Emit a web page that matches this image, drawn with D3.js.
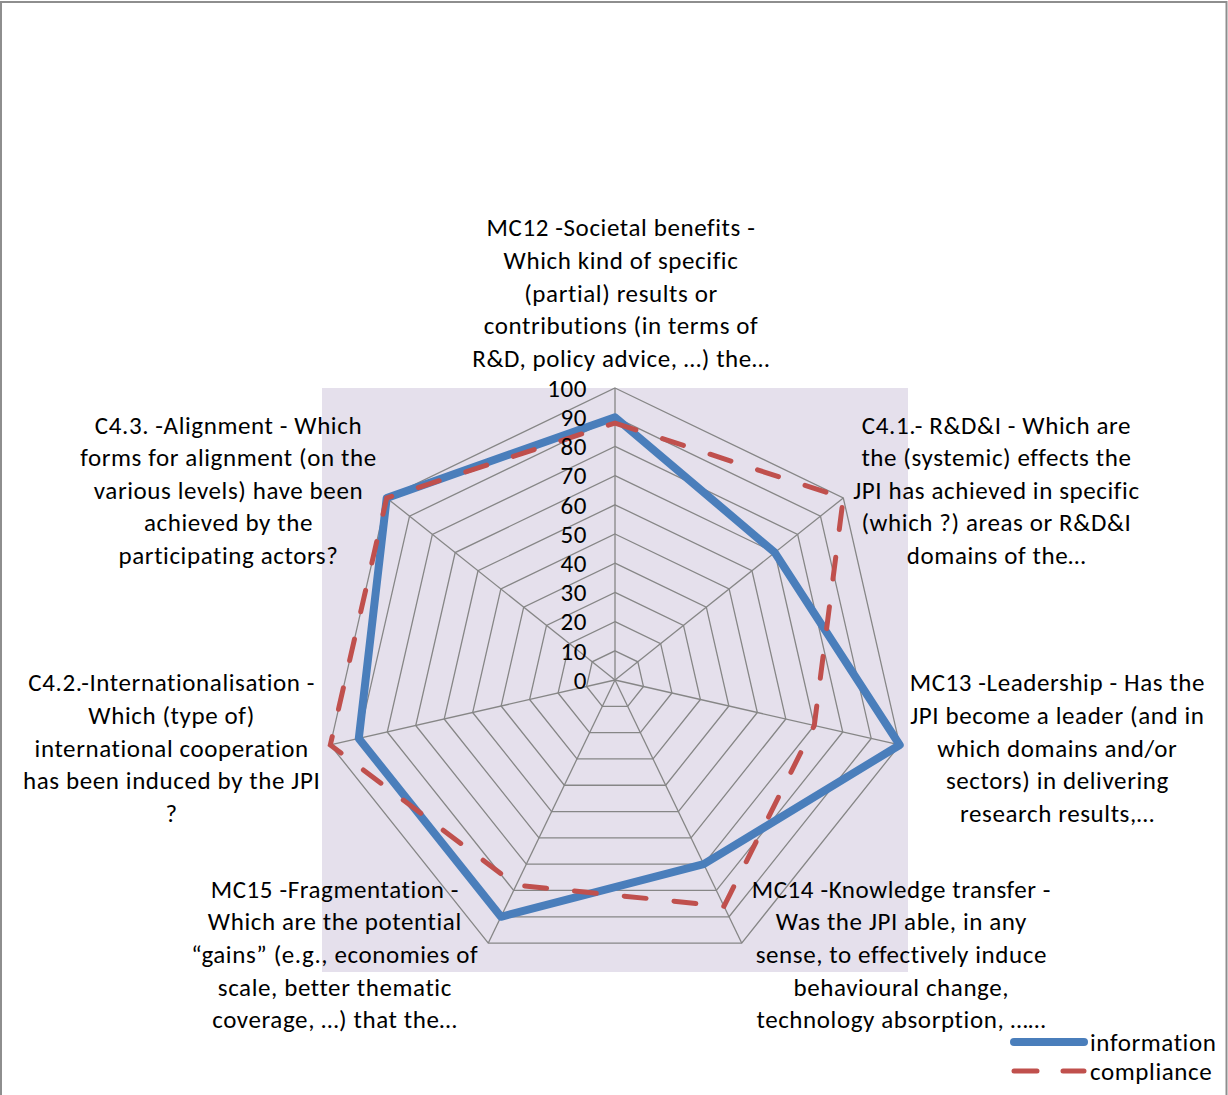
<!DOCTYPE html>
<html>
<head>
<meta charset="utf-8">
<script src="https://cdn.jsdelivr.net/npm/d3@7"></script>
<style>
  body { margin: 0; background: #fff; }
  svg { display: block; }
  text { font-family: Carlito, Calibri, Lato, sans-serif; fill: #000; letter-spacing: 0.6px; }
</style>
</head>
<body>
<svg id="chart" width="1228" height="1095"></svg>
<script>
// Axis labels (each entry is the wrapped lines of one criterion)
const categories = [
  ["MC12 -Societal benefits -", "Which kind of specific", "(partial) results or", "contributions (in terms of", "R&D, policy advice, …) the…"],
  ["C4.1.- R&D&I - Which are", "the (systemic) effects the", "JPI has achieved in specific", "(which ?) areas or R&D&I", "domains of the…"],
  ["MC13 -Leadership - Has the", "JPI become a leader (and in", "which domains and/or", "sectors) in delivering", "research results,…"],
  ["MC14 -Knowledge transfer -", "Was the JPI able, in any", "sense, to effectively induce", "behavioural change,", "technology absorption, ……"],
  ["MC15 -Fragmentation -", "Which are the potential", "“gains” (e.g., economies of", "scale, better thematic", "coverage, …) that the…"],
  ["C4.2.-Internationalisation -", "Which (type of)", "international cooperation", "has been induced by the JPI", "?"],
  ["C4.3. -Alignment - Which", "forms for alignment (on the", "various levels) have been", "achieved by the", "participating actors?"]
];
const information = [90, 70, 100, 70, 90, 90, 100];
const compliance  = [88, 100, 70, 86, 78, 100, 100];
const tickValues  = [0, 10, 20, 30, 40, 50, 60, 70, 80, 90, 100];
const seriesNames = ["information", "compliance"];

// Layout
const W = 1228, H = 1095;
const cx = 615, cy = 680, R = 292;
const fontSize = 25, lineGap = 32.6;
const n = categories.length;
const colors = { information: "#4A7EBB", compliance: "#C0504D" };

const svg = d3.select("#chart");

// Chart frame
svg.append("rect")
  .attr("x", 1).attr("y", 2).attr("width", W - 2.5).attr("height", H + 10)
  .attr("fill", "#fff").attr("stroke", "#8e8e8e").attr("stroke-width", 2);

// Plot area background
svg.append("rect")
  .attr("x", cx - R - 1).attr("y", cy - R)
  .attr("width", 2 * R + 2).attr("height", 2 * R)
  .attr("fill", "#E5E0EC");

const r = d3.scaleLinear().domain([0, 100]).range([0, R]);
const angleOf = i => i * 2 * Math.PI / n;

const radial = d3.lineRadial()
  .angle((d, i) => angleOf(i))
  .radius(d => r(d))
  .curve(d3.curveLinearClosed);

const g = svg.append("g").attr("transform", `translate(${cx},${cy})`);

// Grid rings
g.append("g").selectAll("path")
  .data(tickValues.filter(v => v > 0))
  .join("path")
  .attr("d", v => radial(d3.range(n).map(() => v)))
  .attr("fill", "none")
  .attr("stroke", "#868686")
  .attr("stroke-width", 1.3);

// Spokes
g.append("g").selectAll("line")
  .data(d3.range(n))
  .join("line")
  .attr("x1", 0).attr("y1", 0)
  .attr("x2", i => r(100) * Math.sin(angleOf(i)))
  .attr("y2", i => -r(100) * Math.cos(angleOf(i)))
  .attr("stroke", "#868686")
  .attr("stroke-width", 1.3);

// Series
g.append("path")
  .datum(information)
  .attr("d", radial)
  .attr("fill", "none")
  .attr("stroke", colors.information)
  .attr("stroke-width", 8)
  .attr("stroke-linejoin", "round");

g.append("path")
  .datum(compliance)
  .attr("d", radial)
  .attr("fill", "none")
  .attr("stroke", colors.compliance)
  .attr("stroke-width", 5)
  .attr("stroke-linecap", "round")
  .attr("stroke-dasharray", "22 28");

// Radial value labels
g.append("g").selectAll("text")
  .data(tickValues)
  .join("text")
  .attr("x", -28)
  .attr("y", v => -r(v))
  .attr("dy", "0.35em")
  .attr("text-anchor", "end")
  .style("font-size", fontSize + "px")
  .text(v => v);

// Category labels: wrapped blocks placed beside each outer vertex
categories.forEach((lines, i) => {
  const a = angleOf(i);
  const s = Math.sin(a), c = Math.cos(a);
  const vx = cx + r(100) * s, vy = cy - r(100) * c;
  const block = svg.append("g");
  const texts = lines.map(line => block.append("text")
    .attr("text-anchor", "middle")
    .style("font-size", fontSize + "px")
    .text(line));
  const wMax = d3.max(texts, t => t.node().getComputedTextLength());
  let bx, by;
  if (Math.abs(s) < 0.1) {
    bx = vx + 6;
    by = vy - 30 - (lines.length - 1) * lineGap / 2;
  } else {
    bx = s > 0 ? vx + 10 + wMax / 2 : vx - 10 - wMax / 2;
    by = vy - 12.5 * c;
  }
  texts.forEach((t, k) => {
    t.attr("x", bx)
     .attr("y", by + (k - (lines.length - 1) / 2) * lineGap)
     .attr("dy", "0.35em");
  });
});

// Legend
const legend = svg.append("g");
seriesNames.forEach((name, k) => {
  const y = 1042 + k * 29;
  const ln = legend.append("line")
    .attr("x1", 1014).attr("x2", 1084)
    .attr("y1", y).attr("y2", y)
    .attr("stroke", colors[name])
    .attr("stroke-linecap", "round");
  if (name === "information") {
    ln.attr("stroke-width", 8);
  } else {
    ln.attr("stroke-width", 5).attr("stroke-dasharray", "23 26");
  }
  legend.append("text")
    .attr("x", 1090).attr("y", y)
    .attr("dy", "0.35em")
    .style("font-size", fontSize + "px")
    .text(name);
});
</script>
</body>
</html>
